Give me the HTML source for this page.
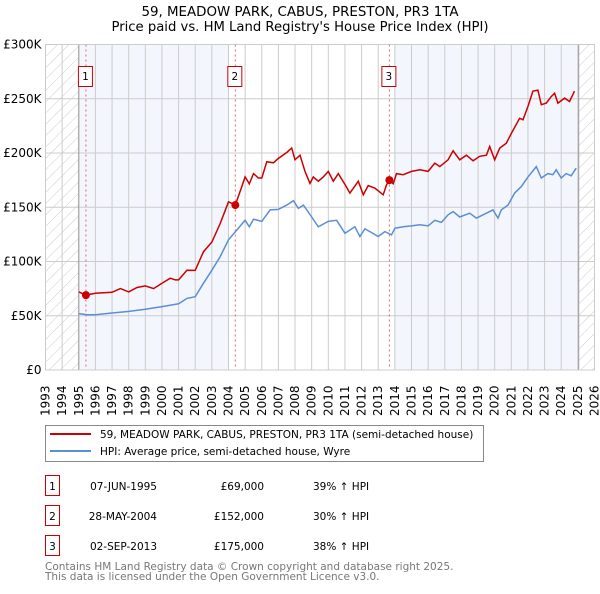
<!DOCTYPE html>
<html><head><meta charset="utf-8"><style>
body{margin:0;background:#fff;width:600px;height:590px;overflow:hidden;font-family:"DejaVu Sans","Liberation Sans",sans-serif;}
svg text{font-family:"DejaVu Sans","Liberation Sans",sans-serif;}
</style></head><body>
<svg id="chart" width="600" height="590">
<defs><pattern id="hatch" patternUnits="userSpaceOnUse" width="8" height="8" patternTransform="rotate(45)"><line x1="0" y1="0" x2="0" y2="8" stroke="#ccc" stroke-width="1"/></pattern></defs>
<text x="300" y="16" text-anchor="middle" font-size="13.4">59, MEADOW PARK, CABUS, PRESTON, PR3 1TA</text>
<text x="300" y="31" text-anchor="middle" font-size="13.2">Price paid vs. HM Land Registry's House Price Index (HPI)</text>
<g id="plot"></g>
<g>
<rect x="45.5" y="425.5" width="438" height="36" fill="#fff" stroke="#888"/>
<line x1="50" y1="434" x2="91" y2="434" stroke="#cc0000" stroke-width="2"/>
<text x="100" y="438" font-size="10.5">59, MEADOW PARK, CABUS, PRESTON, PR3 1TA (semi-detached house)</text>
<line x1="50" y1="451" x2="91" y2="451" stroke="#5b8fd4" stroke-width="2"/>
<text x="100" y="455" font-size="10.5">HPI: Average price, semi-detached house, Wyre</text>
</g>
<g id="table" font-size="10.5"></g>
<text x="45" y="570" font-size="10.5" fill="#777">Contains HM Land Registry data © Crown copyright and database right 2025.</text>
<text x="45" y="580" font-size="10.5" fill="#777">This data is licensed under the Open Government Licence v3.0.</text>
</svg>
<script>
const hpiYears=[1995.0,1995.5,1996,1997,1998,1999,2000,2001,2001.5,2002,2002.5,2003,2003.5,2004,2004.5,2005,2005.25,2005.5,2006,2006.5,2007,2007.5,2007.9,2008.2,2008.5,2009,2009.4,2010,2010.5,2011,2011.3,2011.6,2011.9,2012.2,2012.5,2013,2013.4,2013.8,2014,2014.5,2015,2015.5,2016,2016.4,2016.8,2017.2,2017.5,2017.9,2018.5,2018.9,2019.5,2019.9,2020.2,2020.4,2020.8,2021.2,2021.6,2022,2022.5,2022.8,2023.2,2023.5,2023.7,2024,2024.3,2024.6,2024.9];
const hpiValues=[52,51,51,52.5,54,56,58.4,61,66,67.6,80,92,104.5,120,129,138,132,139,137,147.6,148,152,156,149,152,141,132,137,138,126,129,132,123,130,127.6,123,127.6,124.5,130.7,132,132.8,133.8,132.8,138,136,143,146,141,144.5,140,144.5,147.6,140,147.6,152,163,169,178,187.5,177,181,180,184.5,177,181,179,186];
const propYears=[1995.0,1995.43,1996,1997,1997.5,1998,1998.5,1999,1999.5,2000,2000.5,2000.8,2001,2001.5,2002,2002.5,2003,2003.5,2004,2004.41,2004.8,2005,2005.25,2005.5,2005.8,2006,2006.3,2006.7,2007,2007.5,2007.8,2008,2008.3,2008.6,2008.9,2009.1,2009.4,2009.7,2010,2010.3,2010.6,2011,2011.3,2011.8,2012.1,2012.4,2012.8,2013.3,2013.5,2013.67,2013.9,2014.1,2014.5,2015,2015.5,2016,2016.4,2016.7,2017.2,2017.5,2017.9,2018.3,2018.7,2019.1,2019.5,2019.7,2020,2020.3,2020.7,2021,2021.5,2021.7,2022,2022.3,2022.6,2022.8,2023.1,2023.4,2023.6,2023.8,2024.2,2024.5,2024.8];
const propValues=[72,69,70.7,71.6,75,72,76,77.5,75,80,84.6,83,83,92,91.8,109,118,135,155,152,169,178,171.6,181,177,177,192,191,195,200.5,204.5,193.7,198,183,172,178,174,178,183,174,181,171,163,174,161.5,170,167.6,161.5,170.7,175,171.6,181,180,183,184.5,183,190.7,187.5,193.7,202,193.7,198,192.8,197,198,206,193.7,204.5,209,218,232,230.6,243,257,258,244.5,246,252,255,246,250.6,247.5,257];
const saleLabels=["1","2","3"];
const saleYears=[1995.43,2004.41,2013.67];
const salePrices=[69,152,175];
const saleDates=["07-JUN-1995","28-MAY-2004","02-SEP-2013"];
const salePriceText=["£69,000","£152,000","£175,000"];
const saleHpiText=["39% ↑ HPI","30% ↑ HPI","38% ↑ HPI"];
const yTicks=[0,50,100,150,200,250,300];
const yTickLabels=["£0","£50K","£100K","£150K","£200K","£250K","£300K"];
const xTicks=[];for(let y=1993;y<=2026;y++)xTicks.push(y);

const NS="http://www.w3.org/2000/svg";
const L=45.5,R=594.5,T=44.5,B=370;
const X=y=>L+(y-1993)/(2026-1993)*(R-L);
const Y=v=>B-v/300*(B-T);
const g=document.getElementById('plot');
function mk(tag,attrs,parent){const e=document.createElementNS(NS,tag);for(const k in attrs)e.setAttribute(k,attrs[k]);(parent||g).appendChild(e);return e;}
let e;
e=mk('rect',{x:X(1995),y:T,width:X(2004)-X(1995),height:B-T,fill:'#f3f6fd'});


e=mk('rect',{x:X(2014),y:T,width:X(2025.05)-X(2014),height:B-T,fill:'#f3f6fd'});


e=mk('rect',{x:L,y:T,width:X(1995)-L,height:B-T,fill:'url(#hatch)'});


e=mk('rect',{x:X(2025.05),y:T,width:R-X(2025.05),height:B-T,fill:'url(#hatch)'});


xTicks.forEach(yr=>{const x=X(yr);
 e=mk('line',{x1:x,y1:T,x2:x,y2:B,stroke:'#cccccc','stroke-width':1});
 
 
 e=mk('text',{x:0,y:0,'font-size':12,transform:`translate(${x+4},${B+46}) rotate(-90)`});
 e.textContent=yr;
 
 
});
yTicks.forEach((v,i)=>{const y=Y(v);
 e=mk('line',{x1:L,y1:y,x2:R,y2:y,stroke:'#cccccc','stroke-width':1});
 
 
 e=mk('text',{x:L-4,y:y+4,'font-size':12,'text-anchor':'end'});
 e.textContent=yTickLabels[i];
 
 
});
e=mk('line',{x1:X(1995),y1:T,x2:X(1995),y2:B,stroke:'#999'});


e=mk('line',{x1:X(2025.05),y1:T,x2:X(2025.05),y2:B,stroke:'#999'});


saleYears.forEach((s,i)=>{const x=X(s);
 e=mk('line',{x1:x,y1:T,x2:x,y2:B,stroke:'#e06666','stroke-dasharray':'2,3'});
 
 
 e=mk('rect',{x:x-7.5,y:66.5,width:14,height:20,fill:'#fff',stroke:'#cc0000'});
 
 
 e=mk('text',{x:x-0.5,y:80,'font-size':10.5,'text-anchor':'middle'});
 e.textContent=saleLabels[i];
 
 
});
e=mk('path',{d:hpiYears.map((yr,i)=>(i?'L':'M')+X(yr).toFixed(1)+','+Y(hpiValues[i]).toFixed(1)).join(''),fill:'none',stroke:'#5b8fd4','stroke-width':1.5});


e=mk('path',{d:propYears.map((yr,i)=>(i?'L':'M')+X(yr).toFixed(1)+','+Y(propValues[i]).toFixed(1)).join(''),fill:'none',stroke:'#cc0000','stroke-width':1.5});


saleYears.forEach((s,i)=>{
 e=mk('circle',{cx:X(s),cy:Y(salePrices[i]),r:4,fill:'#cc0000'});
 
 
});
e=mk('rect',{x:L,y:T,width:R-L,height:B-T,fill:'none',stroke:'#ccc'});


const tb=document.getElementById('table');
saleLabels.forEach((lab,i)=>{const y=475+i*30;
 e=mk('rect',{x:45.5,y:y+0.5,width:14,height:20,fill:'#fff',stroke:'#cc0000'},tb);
 
 
 e=mk('text',{x:52.5,y:y+15,'text-anchor':'middle'},tb);e.textContent=lab;
 
 
 e=mk('text',{x:157,y:y+15,'text-anchor':'end'},tb);e.textContent=saleDates[i];
 
 
 e=mk('text',{x:264,y:y+15,'text-anchor':'end'},tb);e.textContent=salePriceText[i];
 
 
 e=mk('text',{x:313,y:y+15},tb);e.textContent=saleHpiText[i];
 
 
});
</script>
</body></html>
